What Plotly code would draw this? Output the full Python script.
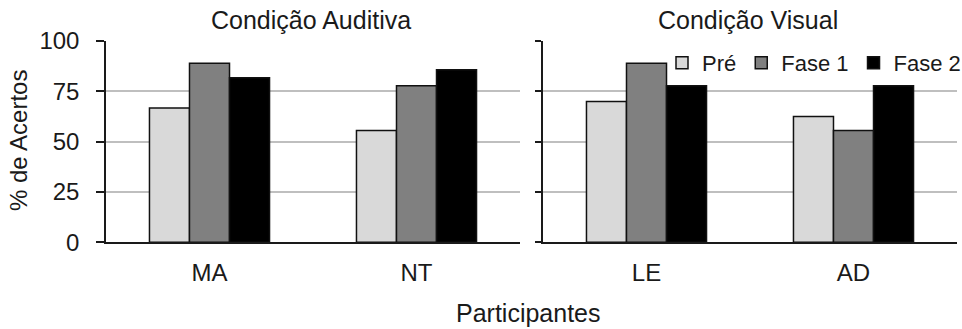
import plotly.graph_objects as go

participants_aud = ["MA", "NT"]
participants_vis = ["LE", "AD"]
series_names = ["Pré", "Fase 1", "Fase 2"]
aud_values = {
    "Pré": [66.7, 55.6],
    "Fase 1": [88.9, 77.8],
    "Fase 2": [81.8, 85.7],
}
vis_values = {
    "Pré": [70.0, 62.5],
    "Fase 1": [88.9, 55.6],
    "Fase 2": [77.8, 77.8],
}
y_ticks = [0, 25, 50, 75, 100]
colors = {"Pré": "#d9d9d9", "Fase 1": "#808080", "Fase 2": "#000000"}

FONT = "Liberation Sans, Arial, sans-serif"
W, H = 962, 329
TXT = "#1a1a1a"

fig = go.Figure()
for name in series_names:
    fig.add_trace(go.Bar(
        x=participants_aud, y=aud_values[name], name=name,
        marker=dict(color=colors[name], line=dict(color="#111111", width=1.5)),
        xaxis="x", yaxis="y", showlegend=True, legendgroup=name,
    ))
for name in series_names:
    fig.add_trace(go.Bar(
        x=participants_vis, y=vis_values[name], name=name,
        marker=dict(color=colors[name], line=dict(color="#111111", width=1.5)),
        xaxis="x2", yaxis="y2", showlegend=False, legendgroup=name,
    ))

ydom = [1 - 242.3 / H, 1 - 41 / H]
axis_common = dict(
    showline=True, linecolor=TXT, linewidth=1.5, automargin=False,
    tickfont=dict(family=FONT, size=24, color=TXT),
)
fig.update_layout(
    width=W, height=H,
    margin=dict(l=0, r=0, t=0, b=0, autoexpand=False),
    paper_bgcolor="white", plot_bgcolor="white",
    barmode="group", bargap=0.42, bargroupgap=0,
    font=dict(family=FONT, color=TXT),
    xaxis=dict(domain=[106 / W, 520 / W], anchor="y", ticks="", showgrid=False,
               ticklabelstandoff=8, **axis_common),
    xaxis2=dict(domain=[543 / W, 957 / W], anchor="y2", ticks="", showgrid=False,
                ticklabelstandoff=8, **axis_common),
    yaxis=dict(domain=ydom, range=[0, 100], tickvals=y_ticks, ticks="outside",
               ticklen=8, tickcolor=TXT, tickwidth=1.5,
               showgrid=True, gridcolor="#bfbfbf", gridwidth=1.5,
               zeroline=False, ticklabelstandoff=12, **axis_common),
    yaxis2=dict(domain=ydom, range=[0, 100], tickvals=y_ticks, ticks="outside",
                ticklen=6, tickcolor=TXT, tickwidth=1.5, showticklabels=False,
                showgrid=True, gridcolor="#bfbfbf", gridwidth=1.5,
                zeroline=False, anchor="x2", **axis_common),
    legend=dict(orientation="h", x=662 / W, y=1 - 63 / H, xanchor="left", yanchor="middle",
                font=dict(family=FONT, size=22, color=TXT),
                bgcolor="rgba(0,0,0,0)", itemwidth=30, tracegroupgap=0),
    annotations=[
        dict(text="Condição Auditiva", x=311 / W, y=1 - 20 / H, xref="paper", yref="paper",
             showarrow=False, font=dict(family=FONT, size=25, color=TXT),
             xanchor="center", yanchor="middle"),
        dict(text="Condição Visual", x=748 / W, y=1 - 20 / H, xref="paper", yref="paper",
             showarrow=False, font=dict(family=FONT, size=25, color=TXT),
             xanchor="center", yanchor="middle"),
        dict(text="% de Acertos", x=18 / W, y=1 - 141 / H, xref="paper", yref="paper",
             showarrow=False, textangle=-90, font=dict(family=FONT, size=24, color=TXT),
             xanchor="center", yanchor="middle"),
        dict(text="Participantes", x=528 / W, y=1 - 313 / H, xref="paper", yref="paper",
             showarrow=False, font=dict(family=FONT, size=25, color=TXT),
             xanchor="center", yanchor="middle"),
    ],
)
fig.write_html("out.html", config={"displayModeBar": False},
               post_script="document.body.style.margin='0';")
